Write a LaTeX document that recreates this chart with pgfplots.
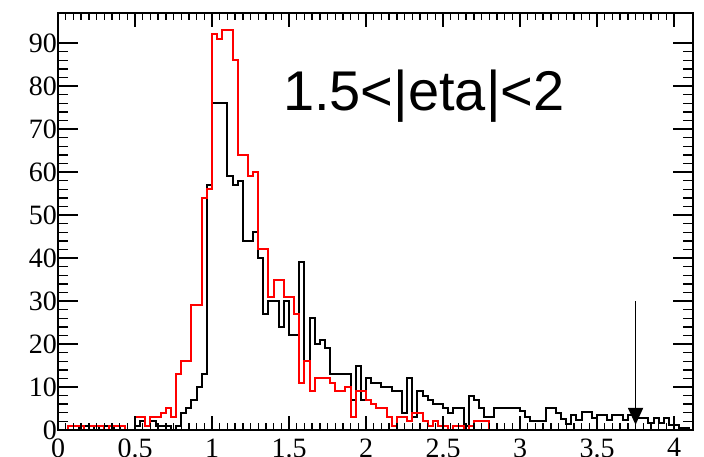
\documentclass[border=0pt]{standalone}
\usepackage{pgfplots}
\pgfplotsset{compat=1.18}
\usepackage{pgfplotstable}
\usepackage{fontspec}
\setmainfont{Liberation Serif}
\newfontfamily\labelsans{Liberation Sans}
\usetikzlibrary{arrows.meta}

% Bin contents, bin width 1/30 starting at 0; the last row closes the outline.
\pgfplotstableread{
bin n
0 0
1 0
2 1
3 1
4 1
5 0
6 1
7 1
8 1
9 0
10 1
11 1
12 1
13 0
14 0
15 3
16 3
17 1
18 3
19 3
20 4
21 5
22 3
23 13
24 16
25 16
26 29
27 29
28 54
29 56
30 92
31 91
32 93
33 93
34 86
35 64
36 64
37 59
38 60
39 42
40 42
41 31
42 35
43 35
44 31
45 31
46 27
47 11
48 16
49 9
50 12
51 12
52 12
53 11
54 9
55 9
56 10
57 3
58 9
59 9
60 7
61 6
62 5
63 5
64 3
65 1
66 3
67 3
68 2
69 4
70 4
71 2
72 1
73 2
74 1
75 1
76 0
77 1
78 1
79 0
80 1
81 2
82 2
83 2
84 0
124 0
}\redhist

\pgfplotstableread{
bin n
0 0
1 0
2 1
3 1
4 0
5 1
6 1
7 0
8 1
9 1
10 0
11 1
12 0
13 0
14 0
15 1
16 2
17 1
18 2
19 1
20 1
21 1
22 0
23 1
24 4
25 5
26 7
27 10
28 13
29 57
30 76
31 76
32 76
33 59
34 57
35 58
36 44
37 44
38 46
39 40
40 27
41 30
42 30
43 24
44 30
45 22
46 22
47 39
48 16
49 26
50 20
51 21
52 19
53 13
54 13
55 13
56 13
57 7
58 15
59 7
60 12
61 11
62 11
63 10
64 10
65 9
66 9
67 4
68 12
69 3
70 9
71 8
72 7
73 6
74 6
75 5
76 4
77 5
78 5
79 1
80 8
81 7
82 5
83 3
84 3
85 5
86 5
87 5
88 5
89 5
90 4.5
91 3
92 2
93 2
94 2
95 5
96 5
97 4
98 2.5
99 1.5
100 3.5
101 2.3
102 4.3
103 4.3
104 2.9
105 3.5
106 3.5
107 2.3
108 3.5
109 3.5
110 2.3
111 3.5
112 4.3
113 2.7
114 2.7
115 1.7
116 2.7
117 1.6
118 2.7
119 1.2
120 1.2
121 0.4
122 0.5
123 0
124 0
}\blackhist

\pgfplotsset{
  histframe/.style={
    scale only axis, width=635pt, height=417pt,
    xmin=0, xmax=4.123, ymin=0, ymax=97,
    axis line style={line width=1.6pt},
    tick align=inside,
    every tick/.style={black, line width=1.4pt},
    /pgf/number format/assume math mode=true,
    ticklabel style={font=\fontsize{28}{28}\selectfont},
  }
}

\begin{document}
\begin{tikzpicture}
% frame, y ticks and the two histograms
\begin{axis}[histframe, name=main,
    xtick=\empty,
    ytick={0,10,20,30,40,50,60,70,80,90},
    minor y tick num=4,
    major tick length=20pt, minor tick length=10pt,
    yticklabel style={inner xsep=1pt},
  ]
  \addplot[const plot mark left, black, line width=2pt]
    table[x expr=\thisrow{bin}/30, y=n] {\blackhist};
  \addplot[const plot mark left, red, line width=2pt]
    table[x expr=\thisrow{bin}/30, y=n] {\redhist};
  \addplot[black, line width=1.8pt, -{Triangle[length=17pt,width=15pt]}]
    coordinates {(3.75,30) (3.75,1.2)};
  \node[anchor=base west, inner sep=0pt,
        font=\labelsans\fontsize{56}{56}\selectfont]
    at (axis cs:1.46,74.4) {1.5<|eta|<2};
\end{axis}
% x ticks use their own, shorter tick length
\begin{axis}[histframe,
    ytick=\empty,
    xtick={0,0.5,1,1.5,2,2.5,3,3.5,4},
    minor x tick num=9,
    major tick length=14pt, minor tick length=7pt,
    xticklabel style={yshift=-5pt},
  ]
\end{axis}
\path (main.south west) ++(-58pt,-27pt) coordinate (bbl);
\path (main.north east) ++(11pt,13pt) coordinate (btr);
\pgfresetboundingbox
\path[use as bounding box] (bbl) rectangle (btr);
\end{tikzpicture}
\end{document}
